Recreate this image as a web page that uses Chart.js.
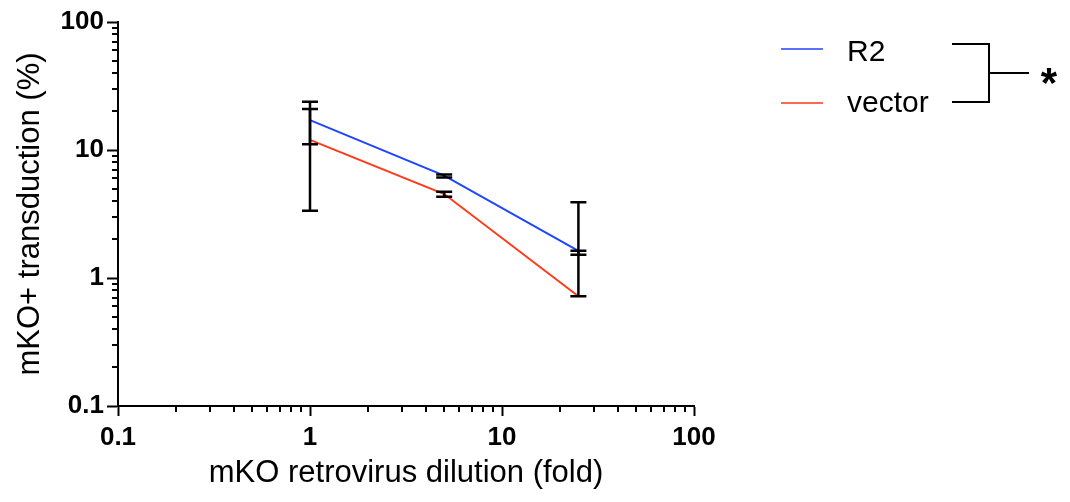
<!DOCTYPE html>
<html>
<head>
<meta charset="utf-8">
<script src="https://cdn.jsdelivr.net/npm/chart.js@4/dist/chart.umd.min.js"></script>
<style>
  html, body { margin: 0; padding: 0; background: #fff; }
  #wrap { width: 1070px; height: 502px; position: relative; }
</style>
</head>
<body>
<div id="wrap"><canvas id="chart"></canvas></div>
<script>
// data
const dilution = [1, 5, 25];
const r2Mean = [17.1, 6.3, 1.63];
const r2Low = [11.1, 6.1, 1.52];
const r2High = [23.8, 6.45, 3.9];
const vectorMean = [12.0, 4.53, 0.72];
const vectorLow = [3.36, 4.32, 0.72];
const vectorHigh = [20.9, 4.72, 1.63];

const xMajor = [0.1, 1, 10, 100];
const xMajorLabels = ['0.1', '1', '10', '100'];
const yMajor = [0.1, 1, 10, 100];
const yMajorLabels = ['0.1', '1', '10', '100'];

const seriesNames = ['R2', 'vector'];
const seriesColors = ['#1f45ff', '#ff3a17'];

const FONT = "'Liberation Sans', Arial, Helvetica, sans-serif";

// log ticks 1..9 x 10^k between majors
function logTicks(majors) {
    const out = [];
    for (let i = 0; i < majors.length - 1; i++) {
        for (let m = 1; m < 10; m++) out.push({ value: majors[i] * m, major: m === 1 });
    }
    out.push({ value: majors[majors.length - 1], major: true });
    return out;
}

function labelFor(majors, labels, v) {
    const i = majors.findIndex(m => Math.abs(m - v) / m < 1e-6);
    return i >= 0 ? labels[i] : '';
}

const minorTicks = {
    id: 'minorTicks',
    afterDraw(chart) {
        const ctx = chart.ctx;
        const xs = chart.scales.x, ys = chart.scales.y;
        ctx.save();
        ctx.strokeStyle = '#000';
        ctx.lineWidth = 2;
        xs.ticks.forEach(t => {
            if (t.major) return;
            const px = Math.round(xs.getPixelForValue(t.value));
            ctx.beginPath();
            ctx.moveTo(px, xs.top);
            ctx.lineTo(px, xs.top + 6);
            ctx.stroke();
        });
        ys.ticks.forEach(t => {
            if (t.major) return;
            const py = Math.round(ys.getPixelForValue(t.value));
            ctx.beginPath();
            ctx.moveTo(ys.right, py);
            ctx.lineTo(ys.right - 6, py);
            ctx.stroke();
        });
        ctx.restore();
    }
};

const errorBars = {
    id: 'errorBars',
    afterDatasetsDraw(chart) {
        const ctx = chart.ctx;
        const xs = chart.scales.x, ys = chart.scales.y;
        const sets = [[r2Low, r2High], [vectorLow, vectorHigh]];
        ctx.save();
        ctx.strokeStyle = '#000';
        ctx.lineWidth = 2.5;
        sets.forEach(([lo, hi]) => {
            dilution.forEach((d, i) => {
                const px = xs.getPixelForValue(d);
                const y1 = ys.getPixelForValue(lo[i]);
                const y2 = ys.getPixelForValue(hi[i]);
                ctx.beginPath();
                ctx.moveTo(px, y1); ctx.lineTo(px, y2);
                ctx.moveTo(px - 8, y1); ctx.lineTo(px + 8, y1);
                ctx.moveTo(px - 8, y2); ctx.lineTo(px + 8, y2);
                ctx.stroke();
            });
        });
        ctx.restore();
    }
};

const sideLegend = {
    id: 'sideLegend',
    afterDraw(chart) {
        const ctx = chart.ctx;
        ctx.save();
        const rows = [49, 103];
        seriesNames.forEach((name, i) => {
            ctx.strokeStyle = seriesColors[i];
            ctx.lineWidth = 1.5;
            ctx.beginPath();
            ctx.moveTo(781, rows[i]);
            ctx.lineTo(823, rows[i]);
            ctx.stroke();
            ctx.fillStyle = '#000';
            ctx.font = '30px ' + FONT;
            ctx.textBaseline = 'alphabetic';
            ctx.fillText(name, 847, i === 0 ? 61 : 112);
        });
        // significance bracket
        ctx.strokeStyle = '#000';
        ctx.lineWidth = 2;
        ctx.beginPath();
        ctx.moveTo(952, 44); ctx.lineTo(989, 44); ctx.lineTo(989, 102); ctx.lineTo(952, 102);
        ctx.moveTo(989, 73); ctx.lineTo(1029, 73);
        ctx.stroke();
        ctx.font = 'bold 42px ' + FONT;
        ctx.textAlign = 'center';
        ctx.fillText('*', 1049, 97);
        ctx.restore();
    }
};

const tickFont = { family: FONT, size: 26, weight: 'bold' };
const titleFont = { family: FONT, size: 31 };

new Chart(document.getElementById('chart'), {
    type: 'line',
    data: {
        datasets: [
            {
                label: seriesNames[0],
                data: dilution.map((d, i) => ({ x: d, y: r2Mean[i] })),
                borderColor: seriesColors[0],
                borderWidth: 2,
                pointRadius: 0,
                tension: 0
            },
            {
                label: seriesNames[1],
                data: dilution.map((d, i) => ({ x: d, y: vectorMean[i] })),
                borderColor: seriesColors[1],
                borderWidth: 2,
                pointRadius: 0,
                tension: 0
            }
        ]
    },
    options: {
        responsive: true,
        maintainAspectRatio: false,
        animation: false,
        layout: { padding: { top: 22, right: 376, left: 0, bottom: 0 } },
        plugins: {
            legend: { display: false },
            tooltip: { enabled: false }
        },
        scales: {
            x: {
                type: 'logarithmic',
                min: 0.1, max: 100,
                afterBuildTicks: s => { s.ticks = logTicks(xMajor); },
                afterFit: s => { s.height = 96; },
                border: { display: true, color: '#000', width: 2 },
                grid: {
                    drawOnChartArea: false, drawTicks: true, tickLength: 10, tickWidth: 2,
                    tickColor: c => (c.tick && c.tick.major) ? '#000' : 'rgba(0,0,0,0)'
                },
                ticks: {
                    autoSkip: false, maxRotation: 0, color: '#000', font: tickFont, padding: 6,
                    callback: v => labelFor(xMajor, xMajorLabels, v)
                },
                title: { display: true, text: 'mKO retrovirus dilution (fold)', color: '#000', font: titleFont, padding: { top: 0, bottom: 10 } }
            },
            y: {
                type: 'logarithmic',
                min: 0.1, max: 100,
                afterBuildTicks: s => { s.ticks = logTicks(yMajor); },
                afterFit: s => { s.width = 118; },
                border: { display: true, color: '#000', width: 2 },
                grid: {
                    drawOnChartArea: false, drawTicks: true, tickLength: 11, tickWidth: 2,
                    tickColor: c => (c.tick && c.tick.major) ? '#000' : 'rgba(0,0,0,0)'
                },
                ticks: {
                    autoSkip: false, color: '#000', font: tickFont, padding: 3,
                    callback: v => labelFor(yMajor, yMajorLabels, v)
                },
                title: { display: true, text: 'mKO+ transduction (%)', color: '#000', font: titleFont, padding: { top: 12, bottom: 0 } }
            }
        }
    },
    plugins: [minorTicks, errorBars, sideLegend]
});
</script>
</body>
</html>
